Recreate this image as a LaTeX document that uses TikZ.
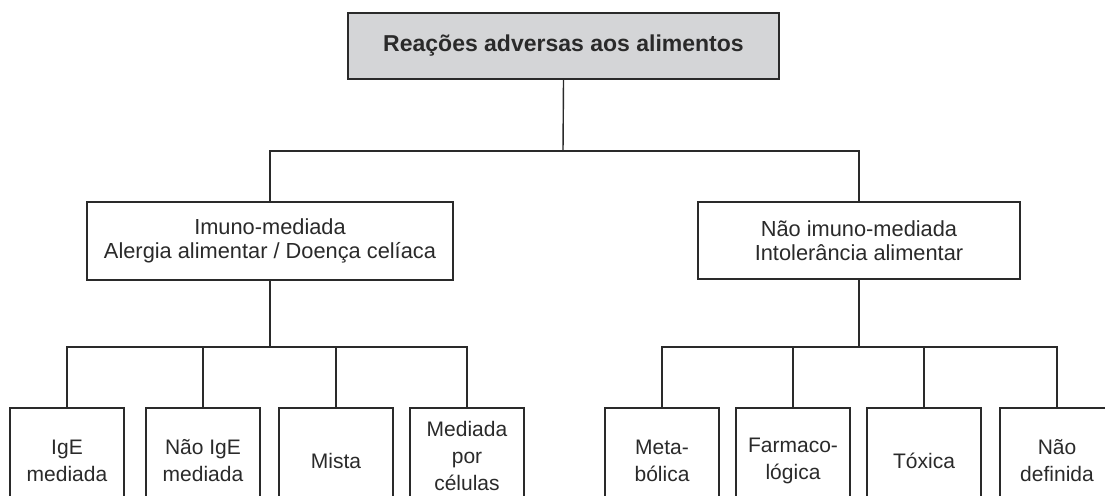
\documentclass[tikz,border=0pt]{standalone}
\usepackage{fontspec}
\setmainfont{Liberation Sans}
\definecolor{boxgray}{HTML}{D4D5D7}
\definecolor{ink}{HTML}{2A2A2A}
\begin{document}
\begin{tikzpicture}[x=1pt,y=-1pt,
  box/.style={draw=ink, line width=1.4pt, rectangle, inner sep=0pt, align=center,
    text=ink, font=\fontsize{21.8}{24}\selectfont},
  leaf/.style={box, minimum width=114pt, minimum height=106pt, font=\fontsize{21}{27}\selectfont},
  conn/.style={draw=ink, line width=1.4pt}]
\useasboundingbox (0,0) rectangle (1105,495);
\clip (0,0) rectangle (1105,495);
\fill[white] (0,0) rectangle (1105,495);

\node[box, fill=boxgray, minimum width=431pt, minimum height=66pt,
  font=\fontsize{23}{27}\selectfont\bfseries] (top) at (563.5,46) {Reações adversas aos alimentos};

\node[box, minimum width=366pt, minimum height=78pt] (L) at (270,241)
  {Imuno-mediada\\Alergia alimentar / Doença celíaca};
\node[box, minimum width=322pt, minimum height=77pt] (R) at (859,240.5)
  {Não imuno-mediada\\Intolerância alimentar};

\node[leaf] (b1) at (67,461) {IgE\\mediada};
\node[leaf] (b2) at (203,461) {Não IgE\\mediada};
\node[leaf] (b3) at (336,461) {Mista};
\node[leaf, minimum height=95pt] (b4) at (467,455.5) {Mediada\\por\\células};
\node[leaf] (b5) at (662,461) {Meta-\\bólica};
\node[leaf] (b6) at (793,461) {Farmaco-\\lógica};
\node[leaf] (b7) at (924,461) {Tóxica};
\node[leaf] (b8) at (1057,461) {Não\\definida};

\coordinate (tb) at (563,151);
\coordinate (lb) at (270,347);
\coordinate (rb) at (859,347);

\draw[conn] (top.south) -- (tb);
\draw[conn] (L.north) -- (L.north |- tb) -- (R.north |- tb) -- (R.north);

\draw[conn] (L.south) -- (L.south |- lb);
\draw[conn] (b1.north) -- (b1.north |- lb) -- (b4.north |- lb) -- (b4.north);
\draw[conn] (b2.north) -- (b2.north |- lb);
\draw[conn] (b3.north) -- (b3.north |- lb);

\draw[conn] (R.south) -- (R.south |- rb);
\draw[conn] (b5.north) -- (b5.north |- rb) -- (b8.north |- rb) -- (b8.north);
\draw[conn] (b6.north) -- (b6.north |- rb);
\draw[conn] (b7.north) -- (b7.north |- rb);
\end{tikzpicture}
\end{document}
